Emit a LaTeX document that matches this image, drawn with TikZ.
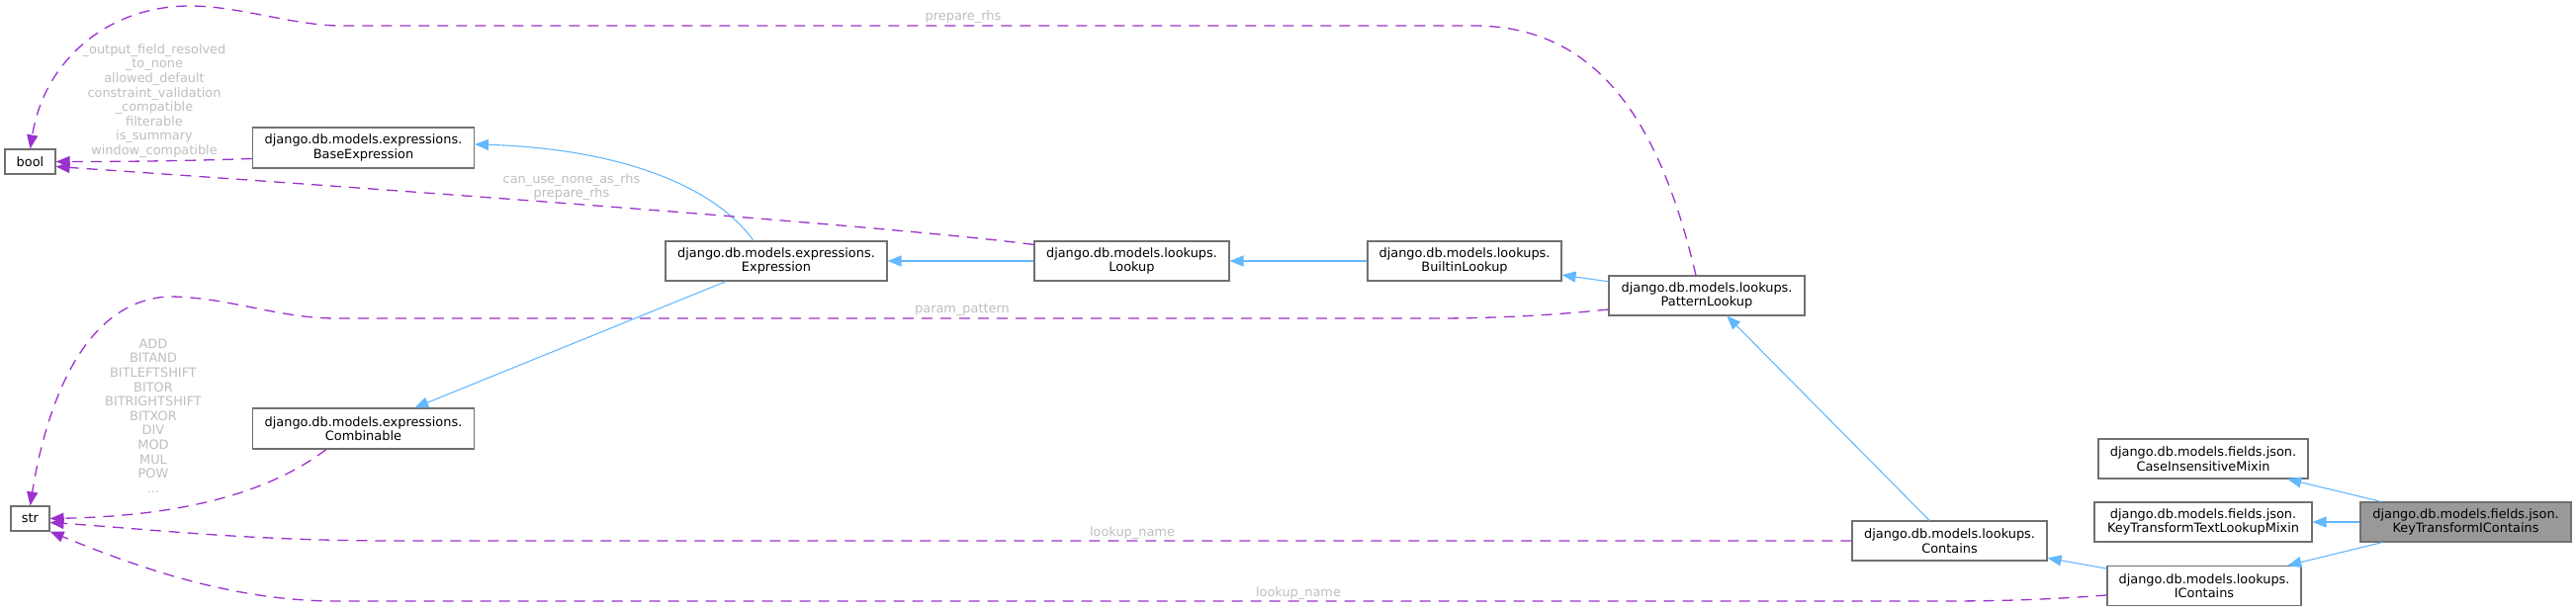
\documentclass[tikz,border=0pt]{standalone}
\usepackage{fontspec}
\setmainfont{DejaVu Sans}
\usetikzlibrary{arrows.meta}
\definecolor{inhblue}{HTML}{63B8FF}
\definecolor{usepurple}{HTML}{9A32CD}
\definecolor{lblgray}{HTML}{BEBEBE}
\definecolor{boxgray}{HTML}{707070}
\definecolor{mainfill}{HTML}{999999}
\tikzset{
  cls/.style     = {draw=boxgray, line width=1.1pt, fill=white, inner sep=0pt,
                    align=center, font=\fontsize{12.9}{14.6}\selectfont},
  inherit/.style = {draw=inhblue, line width=1.1pt,
                    -{Triangle[length=14pt,width=11pt]}},
  uses/.style    = {draw=usepurple, line width=1.3pt, dash pattern=on 11pt off 8pt,
                    -{Triangle[length=14pt,width=11pt]}},
  lbl/.style     = {text=lblgray, align=center, inner sep=0pt,
                    font=\fontsize{12.9}{14.6}\selectfont}
}
\begin{document}
\begin{tikzpicture}[x=1pt, y=-1pt]
\def\W{224}
\def\H{40}
  \useasboundingbox (0,0) rectangle (2605,618);

  % classes
  \node[cls, minimum width=51pt, minimum height=25pt] (bool) at (30.5,163.5) {bool};
  \node[cls, minimum width=39pt, minimum height=25pt] (str)  at (30.5,524.5) {str};
  \node[cls, minimum width=\W pt, minimum height=41pt] (base) at (367.5,149.5)
    {django.db.models.expressions.\\BaseExpression};
  \node[cls, minimum width=\W pt, minimum height=41pt] (comb) at (367.5,433.5)
    {django.db.models.expressions.\\Combinable};
  \node[cls, minimum width=\W pt, minimum height=\H pt] (expr) at (785,264)
    {django.db.models.expressions.\\Expression};
  \node[cls, minimum width=197pt, minimum height=\H pt] (look) at (1144.5,264)
    {django.db.models.lookups.\\Lookup};
  \node[cls, minimum width=196pt, minimum height=\H pt] (built) at (1481,264)
    {django.db.models.lookups.\\BuiltinLookup};
  \node[cls, minimum width=198pt, minimum height=\H pt] (pat) at (1726,299)
    {django.db.models.lookups.\\PatternLookup};
  \node[cls, minimum width=197pt, minimum height=\H pt] (cont) at (1971.5,547)
    {django.db.models.lookups.\\Contains};
  \node[cls, minimum width=196pt, minimum height=\H pt] (icont) at (2229,592.5)
    {django.db.models.lookups.\\IContains};
  \node[cls, minimum width=212pt, minimum height=\H pt] (cimix) at (2228,464)
    {django.db.models.fields.json.\\CaseInsensitiveMixin};
  \node[cls, minimum width=220pt, minimum height=\H pt] (ktmix) at (2228,528)
    {django.db.models.fields.json.\\KeyTransformTextLookupMixin};
  \node[cls, fill=mainfill, minimum width=213pt, minimum height=\H pt] (ktic) at (2493.5,528)
    {django.db.models.fields.json.\\KeyTransformIContains};

  % inheritance
  \draw[inherit] (ktic) -- (cimix);
  \draw[inherit] (ktic) -- (ktmix);
  \draw[inherit] (ktic) -- (icont);
  \draw[inherit] (icont) -- (cont);
  \draw[inherit] (cont) -- (pat);
  \draw[inherit] (pat) -- (built);
  \draw[inherit] (built) -- (look);
  \draw[inherit] (look) -- (expr);
  \draw[inherit] (expr) -- (comb);
  \draw[inherit] ([xshift=-23pt]expr.north) .. controls (720,185) and (620,150)
    .. ([yshift=3.5pt]base.east);

  % usage
  \draw[uses] ([yshift=-11pt]base.west) .. controls (180,163) and (120,163.5) .. (bool.east);
  \draw[uses] ([yshift=-4pt]look.north west) .. controls (900,228) and (300,185)
    .. ([yshift=-5pt]bool.east);
  \draw[uses] ([xshift=-11pt]pat.north) .. controls (1680,130) and (1620,26) .. (1490,26)
    -- (340,26) .. controls (290,24) and (240,6) .. (192,6)
    .. controls (110,6) and (45,60) .. (bool.north);
  \draw[uses] ([xshift=-37.5pt]comb.south) .. controls (270,500) and (180,522) .. (str.east);
  \draw[uses] ([yshift=-14pt]pat.west) .. controls (1560,320) and (1500,322) .. (1450,322)
    -- (340,322) .. controls (280,322) and (230,300) .. (170,300)
    .. controls (80,305) and (45,420) .. (str.north);
  \draw[uses] (cont.west) -- (400,547) .. controls (250,547) and (150,535)
    .. ([yshift=-4pt]str.east);
  \draw[uses] ([yshift=-9.5pt]icont.west) .. controls (2050,608) and (2000,608) .. (1950,608)
    -- (340,608) .. controls (230,608) and (130,570) .. (str.south east);

  % labels
  \node[lbl] (lbase) at (156,102) {\_output\_field\_resolved\\\_to\_none\\allowed\_default\\
    constraint\_validation\\\_compatible\\filterable\\is\_summary\\window\_compatible};
  \node[lbl] (llook) at (578,189) {can\_use\_none\_as\_rhs\\prepare\_rhs};
  \node[lbl] (lpat)  at (974,17) {prepare\_rhs};
  \node[lbl] (lcomb) at (155,420.5) {ADD\\BITAND\\BITLEFTSHIFT\\BITOR\\BITRIGHTSHIFT\\
    BITXOR\\DIV\\MOD\\MUL\\POW\\...};
  \node[lbl] (lparam) at (973,313) {param\_pattern};
  \node[lbl] (lcont) at (1145,539) {lookup\_name};
  \node[lbl] (licont) at (1313,600) {lookup\_name};
\end{tikzpicture}
\end{document}
